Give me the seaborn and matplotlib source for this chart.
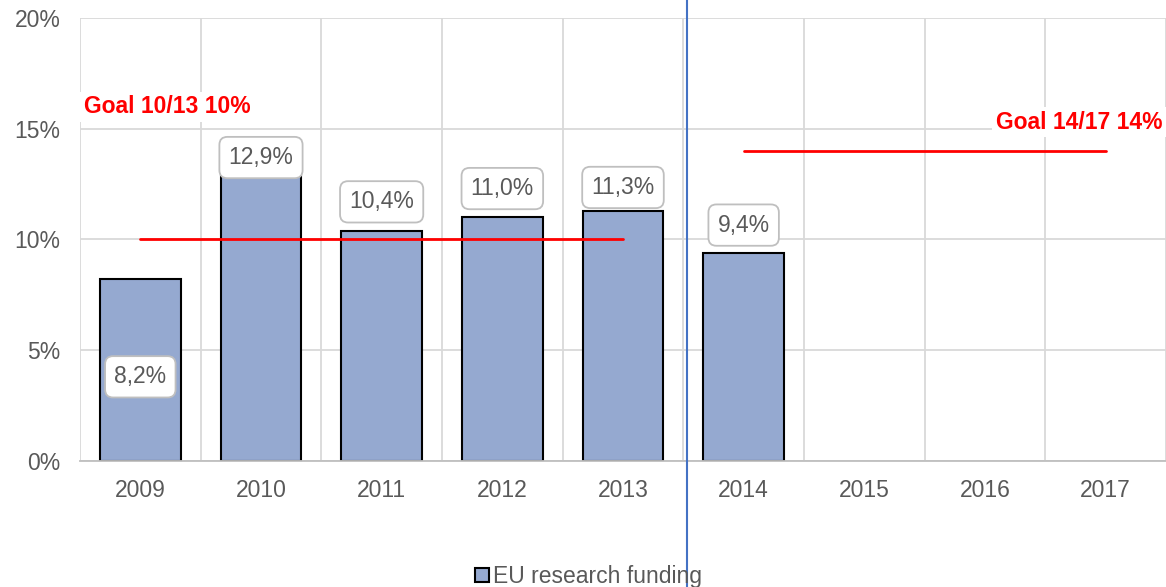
import matplotlib
matplotlib.use("Agg")
import matplotlib.pyplot as plt
import matplotlib.ticker as mticker
import numpy as np
import pandas as pd
import seaborn as sns

years = ["2009", "2010", "2011", "2012", "2013", "2014", "2015", "2016", "2017"]
funded_years = ["2009", "2010", "2011", "2012", "2013", "2014"]
funding = [8.2, 12.9, 10.4, 11.0, 11.3, 9.4]
label_offsets = [-4.4, 0.8, 1.3, 1.3, 1.05, 1.25]  # label position relative to bar top (pct points)

goal_1 = 10  # 2010-2013 goal
goal_2 = 14  # 2014-2017 goal

sns.set_theme(style="white")
plt.rcParams["font.family"] = ["Liberation Sans", "DejaVu Sans"]

grey = "#595959"
bar_color = "#95A9D0"
FS = 16.5

fig = plt.figure(figsize=(11.66, 5.87), dpi=100)
ax = fig.add_axes([0.0686, 0.2147, 0.9314, 0.7546])

df = pd.DataFrame({"year": funded_years, "funding": funding})
sns.barplot(data=df, x="year", y="funding", order=years, color=bar_color,
            edgecolor="black", linewidth=1.5, width=0.67, saturation=1,
            ax=ax, label="EU research funding")

ax.set_xlim(-0.5, len(years) - 0.5)
ax.set_ylim(0, 20)
ax.yaxis.set_major_locator(mticker.MultipleLocator(5))
ax.yaxis.set_major_formatter(mticker.FuncFormatter(lambda v, p: f"{v:.0f}%"))
ax.set_xticks(np.arange(len(years)) + 0.5, minor=True)
ax.grid(True, which="major", axis="y", color="#d9d9d9", lw=1.3, zorder=0)
ax.grid(True, which="minor", axis="x", color="#d9d9d9", lw=1.3, zorder=0)
ax.axvline(-0.5, color="#d9d9d9", lw=1.3, zorder=0)
ax.set_axisbelow(True)
for s in ["top", "right", "left"]:
    ax.spines[s].set_visible(False)
ax.spines["bottom"].set_color("#bfbfbf")
ax.spines["bottom"].set_linewidth(1.3)
ax.tick_params(axis="both", which="both", length=0, labelsize=FS, colors=grey)
ax.tick_params(axis="x", pad=13)
ax.tick_params(axis="y", pad=14)
ax.set_xlabel("")
ax.set_ylabel("")

# value labels
for i, (v, off) in enumerate(zip(funding, label_offsets)):
    ax.text(i, v + off, f"{v:.1f}%".replace(".", ","), ha="center", va="center",
            fontsize=FS, color=grey, zorder=5,
            bbox=dict(boxstyle="round,pad=0.4,rounding_size=0.35", fc="white",
                      ec="#bfbfbf", lw=1.3))

# goal lines
ax.plot([0, 4], [goal_1, goal_1], color="#ff0000", lw=2, zorder=4)
ax.plot([5, 8], [goal_2, goal_2], color="#ff0000", lw=2, zorder=4)
ax.text(-0.47, goal_1 + 6.0, f"Goal 10/13 {goal_1}%", ha="left", va="center",
        fontsize=FS, fontweight="bold", color="#ff0000", zorder=5,
        bbox=dict(boxstyle="square,pad=0.15", fc="white", ec="none"))
ax.text(8.47, goal_2 + 1.3, f"Goal 14/17 {goal_2}%", ha="right", va="center",
        fontsize=FS, fontweight="bold", color="#ff0000", zorder=5,
        bbox=dict(boxstyle="square,pad=0.15", fc="white", ec="none"))

# period separator
ax.axvline(4.53, ymin=-0.29, ymax=1.05, color="#4472C4", lw=1.5, clip_on=False, zorder=6)

handles, labels = ax.get_legend_handles_labels()
if ax.get_legend() is not None:
    ax.get_legend().remove()
fig.legend(handles, labels, loc="lower center", bbox_to_anchor=(0.505, -0.037),
           frameon=False, fontsize=FS, handlelength=0.6, handleheight=0.6,
           handletextpad=0.2, labelcolor=grey)

fig.savefig("out.png", dpi=100)
